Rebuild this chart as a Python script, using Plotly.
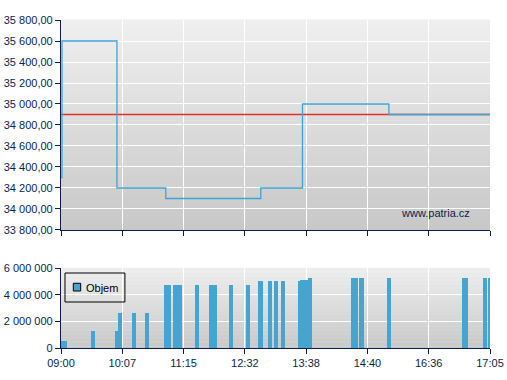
import plotly.graph_objects as go

# ---- data ----
tick_labels = ["09:00", "10:07", "11:15", "12:32", "13:38", "14:40", "16:36", "17:05"]
tick_pos = [0, 1, 2, 3, 4, 5, 6, 7]

price_x = [0, 0.016, 0.913, 1.71, 3.26, 3.94, 5.35, 7]
price_y = [34300, 35600, 34200, 34100, 34200, 35000, 34900, 34900]
prev_close = 34900

vol_x = [0.049, 0.522, 0.909, 0.966, 1.191, 1.403, 1.734, 1.901, 2.214, 2.480,
         2.774, 3.051, 3.255, 3.410, 3.508, 3.622, 3.891, 3.965, 4.063, 4.789,
         4.903, 5.352, 6.592, 6.918, 6.983]
vol_w = [0.098, 0.065, 0.054, 0.060, 0.065, 0.065, 0.109, 0.147, 0.065, 0.131,
         0.065, 0.065, 0.082, 0.065, 0.065, 0.065, 0.016, 0.131, 0.065, 0.114,
         0.082, 0.065, 0.098, 0.065, 0.033]
vol_y = [550000, 1280000, 1280000, 2640000, 2640000, 2640000, 4750000, 4750000, 4750000, 4750000,
         4750000, 4750000, 5060000, 5060000, 5060000, 5060000, 5060000, 5130000, 5280000, 5280000,
         5280000, 5280000, 5280000, 5280000, 5280000]

price_ticks = [33800 + 200 * i for i in range(11)]
vol_ticks = [0, 2000000, 4000000, 6000000]

NAVY = "#0b1f4e"
BLUE = "#45a5d0"
FONT = "Arial, Liberation Sans, sans-serif"

fig = go.Figure()

fig.add_trace(go.Scatter(x=[0, 7], y=[prev_close, prev_close], mode="lines",
                         line=dict(color="#e2312b", width=1.3), xaxis="x", yaxis="y",
                         showlegend=False, hoverinfo="skip"))
fig.add_trace(go.Scatter(x=price_x, y=price_y, mode="lines", line_shape="hv",
                         line=dict(color="#3ea4d6", width=1.3), xaxis="x", yaxis="y",
                         showlegend=False))
fig.add_trace(go.Bar(x=vol_x, y=vol_y, width=vol_w, marker=dict(color=BLUE, line=dict(width=0)),
                     xaxis="x2", yaxis="y2", showlegend=False, name="Objem"))

# gradient backgrounds
shapes = []
N = 60
for yref, xref in (("y domain", "x domain"), ("y2 domain", "x2 domain")):
    for i in range(N):
        t = i / (N - 1)
        c = int(round(0xc8 + (0xef - 0xc8) * t))
        shapes.append(dict(type="rect", xref=xref, yref=yref, x0=0, x1=1,
                           y0=i / N, y1=(i + 1) / N + 0.002,
                           fillcolor=f"rgb({c},{c},{c})", line=dict(width=0), layer="below"))

# manual legend
shapes.append(dict(type="rect", xref="x2 domain", yref="y2 domain", x0=0.0093, x1=0.149,
                   y0=0.575, y1=0.9375, line=dict(color="black", width=1), fillcolor="rgba(0,0,0,0)",
                   layer="above"))
shapes.append(dict(type="rect", xref="x2 domain", yref="y2 domain", x0=0.0287, x1=0.0459,
                   y0=0.7125, y1=0.809, line=dict(color="black", width=1), fillcolor=BLUE,
                   layer="above"))

axis_common = dict(showline=True, linecolor=NAVY, linewidth=1.2, ticks="outside", ticklen=5,
                   tickcolor=NAVY, tickwidth=1.2, gridcolor="white", gridwidth=1.3,
                   zeroline=False, automargin=False,
                   tickfont=dict(family=FONT, size=11, color=NAVY))

fig.update_layout(
    width=507, height=380,
    margin=dict(l=61, r=17, t=20, b=32),
    paper_bgcolor="white", plot_bgcolor="#dddddd",
    separators=", ",
    showlegend=False,
    bargap=0,
    xaxis=dict(axis_common, domain=[0, 1], range=[0, 7], tickvals=tick_pos,
               showticklabels=False, anchor="y"),
    yaxis=dict(axis_common, domain=[0.3598, 1], range=[33800, 35800], tickvals=price_ticks,
               tickformat=",.2f", anchor="x"),
    xaxis2=dict(axis_common, domain=[0, 1], range=[0, 7], tickvals=tick_pos,
                ticktext=tick_labels, anchor="y2"),
    yaxis2=dict(axis_common, domain=[0, 0.2439], range=[0, 6000000], tickvals=vol_ticks,
                tickformat=",d", anchor="x2"),
    shapes=shapes,
    annotations=[
        dict(text="www.patria.cz", xref="x domain", yref="y domain", x=0.957, y=0.08,
             xanchor="right", yanchor="middle", showarrow=False,
             font=dict(family=FONT, size=11, color=NAVY)),
        dict(text="Objem", xref="x2 domain", yref="y2 domain", x=0.0536, y=0.75,
             xanchor="left", yanchor="middle", showarrow=False,
             font=dict(family=FONT, size=11, color="black")),
    ],
)

fig.write_html("out.html", config={"displayModeBar": False},
               post_script="document.body.style.margin='0';")
